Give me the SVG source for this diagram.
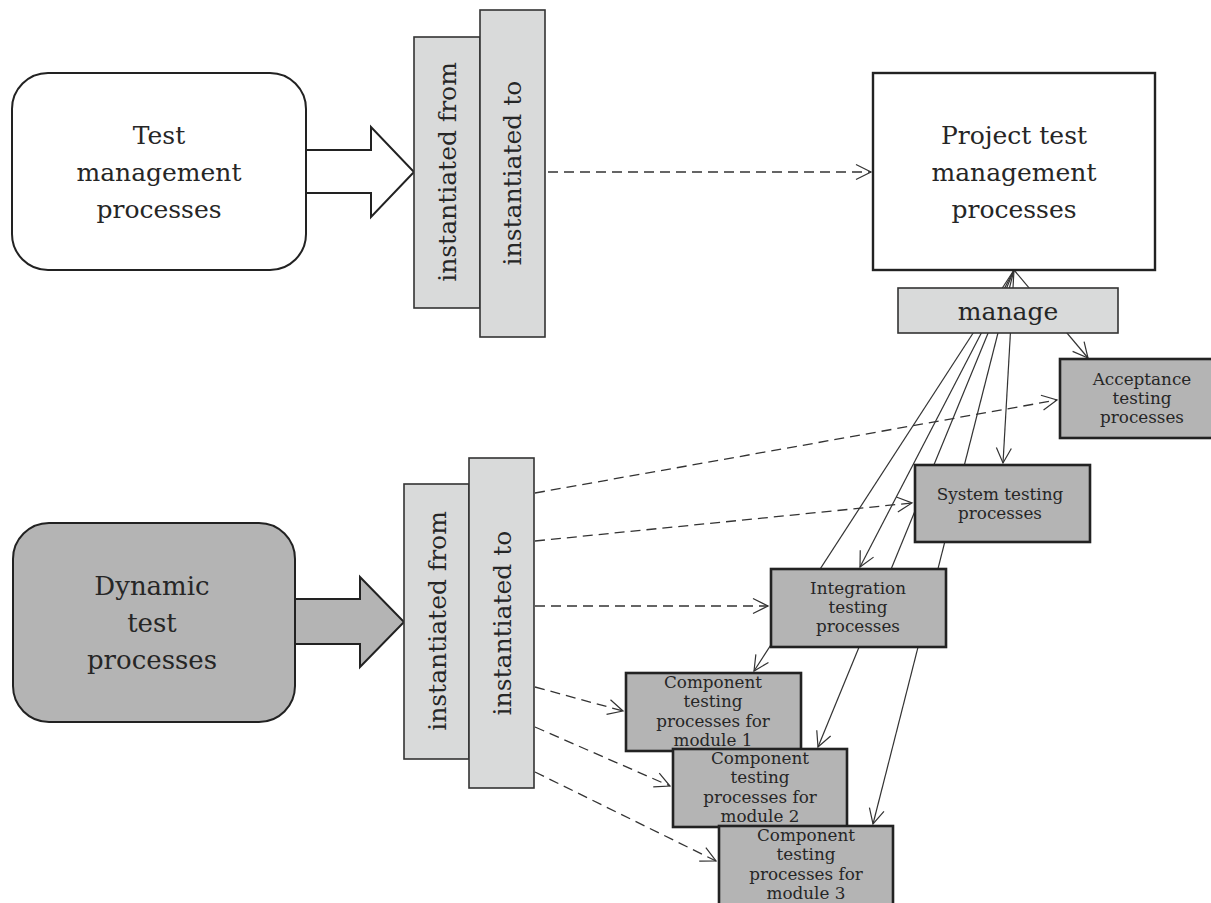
<svg xmlns="http://www.w3.org/2000/svg" width="1211" height="903" viewBox="0 0 1211 903">
<defs>
<style>
.t{font-family:"DejaVu Serif","Liberation Serif",serif;fill:#262626;text-anchor:middle}
.big{font-size:25px}
.sm{font-size:16.8px}
.rnd{stroke:#222;stroke-width:2}
.lt{fill:#d9dada;stroke:#333;stroke-width:1.6}
.dk{fill:#b4b4b4;stroke:#222;stroke-width:2.6}
.ln{fill:none;stroke:#333;stroke-width:1.2}
.ds{fill:none;stroke:#333;stroke-width:1.3;stroke-dasharray:10 6}
</style>
<marker id="ah" viewBox="0 0 18 18" markerWidth="18" markerHeight="18" refX="16" refY="9" orient="auto" markerUnits="userSpaceOnUse">
<path d="M1,1.5 L16,9 L1,16.5" fill="none" stroke="#333" stroke-width="1.2"/>
</marker>
</defs>
<rect width="1211" height="903" fill="#fff"/>

<g id="connectors">
<line class="ds" x1="548" y1="172" x2="871" y2="172" marker-end="url(#ah)"/>
<line class="ds" x1="535" y1="493" x2="1057" y2="400" marker-end="url(#ah)"/>
<line class="ds" x1="535" y1="541" x2="912" y2="503" marker-end="url(#ah)"/>
<line class="ds" x1="535" y1="606" x2="768" y2="606" marker-end="url(#ah)"/>
<line class="ds" x1="535" y1="687" x2="623" y2="711" marker-end="url(#ah)"/>
<line class="ds" x1="535" y1="727" x2="670" y2="786" marker-end="url(#ah)"/>
<line class="ds" x1="535" y1="772" x2="716" y2="861" marker-end="url(#ah)"/>
<line class="ln" x1="1014" y1="270" x2="1088" y2="358" marker-end="url(#ah)"/>
<line class="ln" x1="1014" y1="270" x2="1003" y2="463" marker-end="url(#ah)"/>
<line class="ln" x1="1014" y1="270" x2="860" y2="567" marker-end="url(#ah)"/>
<line class="ln" x1="1014" y1="270" x2="754" y2="671" marker-end="url(#ah)"/>
<line class="ln" x1="1014" y1="270" x2="818" y2="747" marker-end="url(#ah)"/>
<line class="ln" x1="1014" y1="270" x2="873" y2="824" marker-end="url(#ah)"/>
</g>

<g id="test-management">
<rect class="rnd" x="12" y="73" width="294" height="197" rx="36" fill="#fff"/>
<text class="t big"><tspan x="159" y="144">Test</tspan><tspan x="159" y="181">management</tspan><tspan x="159" y="218">processes</tspan></text>
</g>
<g id="arrow-top">
<polygon class="rnd" points="306,150 371,150 371,127 414,172 371,217 371,193 306,193" fill="#fff"/>
</g>
<g id="inst-from-top">
<rect class="lt" x="414" y="37" width="66" height="271"/>
<text class="t big" transform="translate(447,172) rotate(-90)" dominant-baseline="central">instantiated from</text>
</g>
<g id="inst-to-top">
<rect class="lt" x="480" y="10" width="65" height="327"/>
<text class="t big" transform="translate(512,173) rotate(-90)" dominant-baseline="central">instantiated to</text>
</g>
<g id="project-test-management">
<rect x="873" y="73" width="282" height="197" fill="#fff" stroke="#222" stroke-width="2.4"/>
<text class="t big"><tspan x="1014" y="144">Project test</tspan><tspan x="1014" y="181">management</tspan><tspan x="1014" y="218">processes</tspan></text>
</g>
<g id="manage">
<rect class="lt" x="898" y="288" width="220" height="45" stroke="#222" stroke-width="2"/>
<text class="t big" x="1008" y="311" dominant-baseline="central">manage</text>
</g>
<g id="acceptance">
<rect class="dk" x="1060" y="359" width="166" height="79"/>
<text class="t sm"><tspan x="1142" y="385">Acceptance</tspan><tspan x="1142" y="404">testing</tspan><tspan x="1142" y="423">processes</tspan></text>
</g>
<g id="system">
<rect class="dk" x="915" y="465" width="175" height="77"/>
<text class="t sm"><tspan x="1000" y="500">System testing</tspan><tspan x="1000" y="519">processes</tspan></text>
</g>
<g id="integration">
<rect class="dk" x="771" y="569" width="175" height="78"/>
<text class="t sm"><tspan x="858" y="594">Integration</tspan><tspan x="858" y="613">testing</tspan><tspan x="858" y="632">processes</tspan></text>
</g>
<g id="component-1">
<rect class="dk" x="626" y="673" width="175" height="78"/>
<text class="t sm"><tspan x="713" y="688">Component</tspan><tspan x="713" y="707">testing</tspan><tspan x="713" y="727">processes for</tspan><tspan x="713" y="746">module 1</tspan></text>
</g>
<g id="component-2">
<rect class="dk" x="673" y="749" width="174" height="78"/>
<text class="t sm"><tspan x="760" y="764">Component</tspan><tspan x="760" y="783">testing</tspan><tspan x="760" y="803">processes for</tspan><tspan x="760" y="822">module 2</tspan></text>
</g>
<g id="component-3">
<rect class="dk" x="719" y="826" width="174" height="82"/>
<text class="t sm"><tspan x="806" y="841">Component</tspan><tspan x="806" y="860">testing</tspan><tspan x="806" y="880">processes for</tspan><tspan x="806" y="899">module 3</tspan></text>
</g>

<g id="dynamic-test">
<rect class="rnd" x="13" y="523" width="282" height="199" rx="36" fill="#b4b4b4"/>
<text class="t big" style="font-size:26px"><tspan x="152" y="595">Dynamic</tspan><tspan x="152" y="632">test</tspan><tspan x="152" y="669">processes</tspan></text>
</g>
<g id="arrow-bottom">
<polygon class="rnd" points="295,599 360,599 360,577 404,622 360,667 360,644 295,644" fill="#b4b4b4"/>
</g>
<g id="inst-from-bottom">
<rect class="lt" x="404" y="484" width="65" height="275"/>
<text class="t big" transform="translate(437,621) rotate(-90)" dominant-baseline="central">instantiated from</text>
</g>
<g id="inst-to-bottom">
<rect class="lt" x="469" y="458" width="65" height="330"/>
<text class="t big" transform="translate(502,623) rotate(-90)" dominant-baseline="central">instantiated to</text>
</g>
</svg>
